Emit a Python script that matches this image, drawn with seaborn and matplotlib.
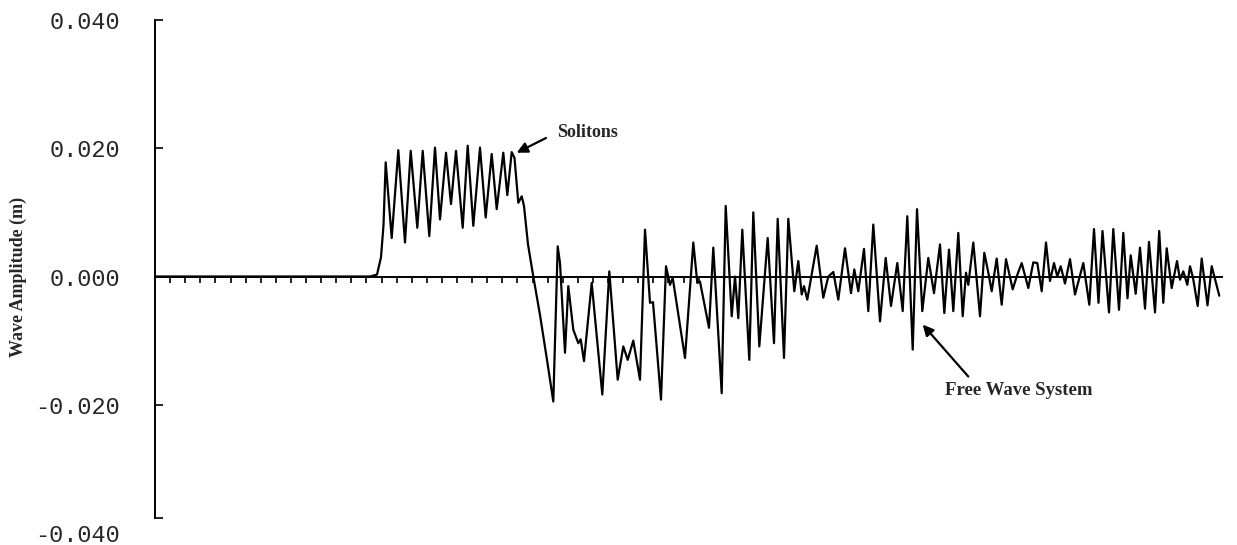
import numpy as np
import pandas as pd
import matplotlib
matplotlib.use("Agg")
import matplotlib.pyplot as plt
import seaborn as sns

# -----------------------------------------------------------------------------
# data (time in arbitrary units, amplitude in m)
# -----------------------------------------------------------------------------
time_s = [
    0.0, 21.5, 22.2, 22.6, 22.85, 23.07, 23.67, 24.33, 25.0, 25.57, 26.23,
    26.77, 27.43, 28.0, 28.5, 29.1, 29.6, 30.1, 30.77, 31.27, 31.83, 32.5,
    33.07, 33.67, 34.17, 34.83, 35.23, 35.67, 35.95, 36.33, 36.67, 36.9,
    37.3, 37.83, 38.5, 39.2, 39.83, 40.27, 40.5, 41.0, 41.33, 41.83, 42.33,
    42.57, 42.9, 43.67, 44.73, 45.43, 46.27, 46.83, 47.27, 47.83, 48.5,
    49.0, 49.5, 49.8, 50.6, 51.1, 51.5, 51.77, 53.0, 53.83, 54.23, 54.5,
    55.4, 55.83, 56.67, 57.07, 57.67, 58.0, 58.33, 58.73, 59.43, 59.83,
    60.43, 61.27, 61.9, 62.27, 62.9, 63.33, 63.93, 64.33, 64.67, 64.9,
    65.23, 66.17, 66.83, 67.33, 67.83, 68.33, 69.0, 69.6, 69.93, 70.33,
    70.9, 71.33, 71.83, 72.5, 73.07, 73.6, 74.23, 74.77, 75.23, 75.77,
    76.2, 76.73, 77.33, 77.9, 78.5, 78.93, 79.4, 79.83, 80.33, 80.77,
    81.1, 81.33, 81.83, 82.5, 82.93, 83.33, 83.67, 84.17, 84.67, 85.1,
    85.77, 86.17, 86.67, 87.33, 87.83, 88.23, 88.67, 89.1, 89.5, 89.9,
    90.23, 90.57, 91.0, 91.5, 92.0, 92.83, 93.43, 93.9, 94.35, 94.75,
    95.4, 95.83, 96.4, 96.83, 97.25, 97.57, 98.07, 98.5, 99.0, 99.4,
    100.0, 100.42, 100.83, 101.17, 101.67, 102.2, 102.5, 102.83, 103.23,
    103.5, 103.8, 104.27, 104.67, 105.25, 105.67, 106.43,
]
amplitude_m = [
    0.0, 0.0, 0.0003, 0.003, 0.008, 0.0178, 0.0060, 0.0197, 0.0053, 0.0196,
    0.0076, 0.0196, 0.0063, 0.0201, 0.0089, 0.0193, 0.0113, 0.0196, 0.0076,
    0.0204, 0.0079, 0.0201, 0.0092, 0.0191, 0.0105, 0.0193, 0.0127, 0.0194,
    0.0185, 0.0115, 0.0125, 0.0110, 0.0050, 0.0, -0.0060, -0.0130, -0.0195,
    0.0047, 0.0021, -0.0119, -0.0015, -0.0083, -0.0104, -0.0098, -0.0132,
    -0.0010, -0.0184, 0.0008, -0.0161, -0.0109, -0.0130, -0.0100, -0.0161,
    0.0073, -0.0041, -0.0040, -0.0192, 0.0016, -0.0013, -0.0002, -0.0127,
    0.0053, -0.0010, -0.0008, -0.0080, 0.0045, -0.0182, 0.0110, -0.0062,
    0.0000, -0.0065, 0.0073, -0.0130, 0.0100, -0.0109, 0.0060, -0.0104,
    0.0090, -0.0127, 0.0090, -0.0023, 0.0024, -0.0028, -0.0015, -0.0036,
    0.0048, -0.0033, 0.0000, 0.0007, -0.0036, 0.0044, -0.0026, 0.0011,
    -0.0023, 0.0043, -0.0054, 0.0081, -0.0070, 0.0029, -0.0046, 0.0021,
    -0.0054, 0.0094, -0.0114, 0.0105, -0.0054, 0.0029, -0.0026, 0.0050,
    -0.0057, 0.0042, -0.0054, 0.0068, -0.0062, 0.0006, -0.0013, 0.0053,
    -0.0062, 0.0037, 0.0006, -0.0023, 0.0028, -0.0044, 0.0027, -0.0020,
    0.0000, 0.0021, -0.0018, 0.0022, 0.0021, -0.0023, 0.0053, -0.0007,
    0.0021, 0.0000, 0.0016, -0.0011, 0.0027, -0.0028, 0.0021, -0.0044,
    0.0074, -0.0041, 0.0071, -0.0056, 0.0074, -0.0052, 0.0068, -0.0034,
    0.0033, -0.0027, 0.0045, -0.0050, 0.0054, -0.0056, 0.0071, -0.0041,
    0.0044, -0.0018, 0.0024, -0.0005, 0.0008, -0.0013, 0.0016, -0.0002,
    -0.0046, 0.0028, -0.0045, 0.0016, -0.0030,
]
y_ticks = [-0.04, -0.02, 0.0, 0.02, 0.04]
y_tick_labels = ["-0.040", "-0.020", "0.000", "0.020", "0.040"]

df = pd.DataFrame({"t": time_s, "amp": amplitude_m})

# -----------------------------------------------------------------------------
# style
# -----------------------------------------------------------------------------
sns.set_style("white")
plt.rcParams["font.family"] = ["Liberation Serif", "DejaVu Serif"]

fig = plt.figure(figsize=(12.37, 5.45), dpi=100)
ax = fig.add_axes([155 / 1237, 1 - 533 / 545, (1222 - 155) / 1237, (533 - 20) / 545])

sns.lineplot(data=df, x="t", y="amp", ax=ax, color="black", linewidth=1.6,
             sort=False, estimator=None)
ax.lines[0].set_solid_joinstyle("round")

ax.set_xlim(0, 106.7)
ax.set_ylim(-0.04, 0.04)

# axes: zero line with small ticks, left axis with inward ticks
for s in ("top", "right"):
    ax.spines[s].set_visible(False)
ax.spines["bottom"].set_position(("data", 0))
ax.spines["bottom"].set_linewidth(1.4)
ax.spines["left"].set_linewidth(1.4)
ax.spines["left"].set_bounds(-0.0377, 0.04)
for s in ("bottom", "left"):
    ax.spines[s].set_color("black")

ax.set_xticks(np.arange(1.51, 55, 1.51))
ax.tick_params(axis="x", bottom=True, direction="out", length=4, width=1.2,
               labelbottom=False, color="black")
ax.set_yticks(y_ticks)
ax.set_yticklabels(y_tick_labels, family="Liberation Mono", fontsize=17)
ax.set_yticks([-0.0377], minor=True)
ax.tick_params(axis="y", which="both", left=True, direction="in", length=6,
               width=1.2, pad=25, color="black")
# the spine stops short of -0.040, so that tick mark is not drawn
ax.yaxis.get_major_ticks()[0].tick1line.set_visible(False)
ax.set_xlabel("")
ax.set_ylabel("")

fig.text(18 / 1237, 1 - 277 / 545, "Wave Amplitude (m)", rotation=90,
         ha="center", va="center", fontsize=13, fontweight="bold")

# annotations
arrow = dict(arrowstyle="-|>", color="black", lw=1.6, mutation_scale=16,
             shrinkA=0, shrinkB=0)
ax.text(43.3, 0.0224, "Solitons", ha="center", va="center", fontsize=13,
        fontweight="bold")
ax.annotate("", xy=(36.17, 0.0193), xytext=(39.1, 0.0216), arrowprops=arrow)

ax.text(86.35, -0.0177, "Free Wave System", ha="center", va="center",
        fontsize=13.5, fontweight="bold")
ax.annotate("", xy=(76.77, -0.0075), xytext=(81.33, -0.0156), arrowprops=arrow)

fig.savefig("out.png", dpi=100)
